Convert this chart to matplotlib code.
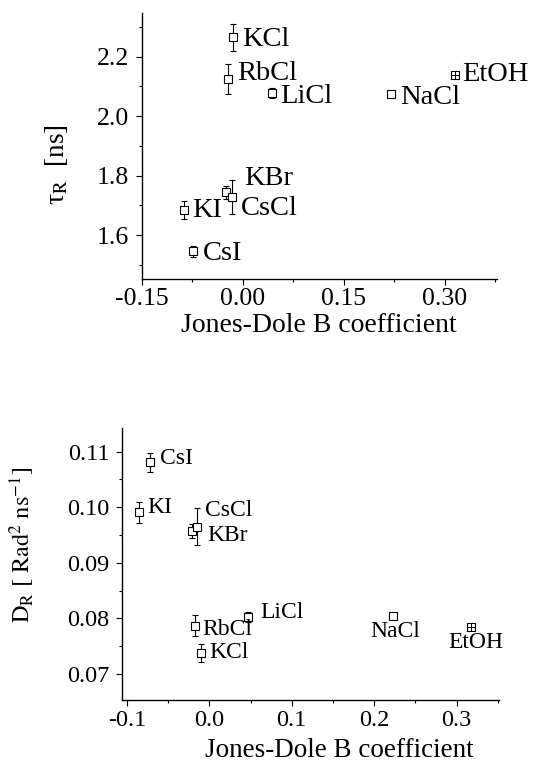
import numpy as np
import matplotlib
matplotlib.use("Agg")
import matplotlib.pyplot as plt
from matplotlib.ticker import MultipleLocator, FormatStrFormatter

plt.rcParams['font.family'] = ['Liberation Serif', 'DejaVu Serif']
plt.rcParams['mathtext.fontset'] = 'stix'
plt.rcParams['axes.unicode_minus'] = False

# ---- data -------------------------------------------------------------
salts = ['KCl', 'RbCl', 'LiCl', 'NaCl', 'EtOH', 'KBr', 'CsCl', 'KI', 'CsI']

# rotational correlation time vs Jones-Dole B
b_tau = [-0.0137, -0.0216, 0.0443, 0.2204, 0.315, -0.024, -0.0162, -0.0875, -0.0732]
tau_r = [2.265, 2.124, 2.077, 2.074, 2.137, 1.744, 1.729, 1.684, 1.546]
tau_err = [0.046, 0.051, 0.017, 0.008, 0.005, 0.022, 0.056, 0.030, 0.018]

# rotational diffusion coefficient vs Jones-Dole B
b_dr = [-0.0099, -0.0173, 0.0472, 0.2226, 0.318, -0.0209, -0.0153, -0.0858, -0.0725]
d_r = [0.0737, 0.0787, 0.0803, 0.0805, 0.0784, 0.0957, 0.0965, 0.0991, 0.1081]
d_err = [0.0016, 0.0019, 0.0009, 0.0, 0.0002, 0.0012, 0.0033, 0.0019, 0.0017]

top_xticks = [-0.15, 0.00, 0.15, 0.30]
top_yticks = [1.6, 1.8, 2.0, 2.2]
bot_xticks = [-0.1, 0.0, 0.1, 0.2, 0.3]
bot_yticks = [0.07, 0.08, 0.09, 0.10, 0.11]

# label placement: (dx, dy) in pixels from the marker to the text's left edge / cap centre
top_offsets = {
    'KCl': (9, 1), 'RbCl': (9, 9), 'LiCl': (8, 0), 'NaCl': (9, 0), 'EtOH': (8, 4),
    'KBr': (18, 17), 'CsCl': (9, -9), 'KI': (9, 3), 'CsI': (10, 1),
}
bot_offsets = {
    'CsI': (10, 6), 'KI': (9, 7), 'CsCl': (8, 18), 'KBr': (15, -2), 'LiCl': (12, 6),
    'RbCl': (7, -2), 'KCl': (8, 3), 'NaCl': (-22, -14), 'EtOH': (-23, -13),
}

fig = plt.figure(figsize=(5.35, 7.62), dpi=100)
fig.patch.set_facecolor('white')


def style_axes(ax, tick_size):
    for s in ('top', 'right'):
        ax.spines[s].set_visible(False)
    for s in ('left', 'bottom'):
        ax.spines[s].set_linewidth(1.0)
    ax.tick_params(which='major', direction='out', length=4, width=0.8,
                   labelsize=tick_size)
    ax.tick_params(which='minor', direction='out', length=2.5, width=0.8)
    ax.tick_params(axis='x', pad=2)
    ax.tick_params(axis='y', pad=5)


def draw_panel(ax, x, y, yerr, offsets, fsize):
    ax.errorbar(x, y, yerr=yerr, fmt='s', ms=5.4, mfc='white', mec='black',
                mew=0.8, ecolor='black', elinewidth=0.8, capsize=2.2,
                capthick=0.8, zorder=3)
    i = salts.index('EtOH')
    ax.plot([x[i]], [y[i]], marker='+', ms=5.2, mew=0.7, color='black',
            linestyle='none', zorder=4)
    cap_half = 0.33 * fsize * 100 / 72
    for name, xv, yv in zip(salts, x, y):
        dx, dy = offsets[name]
        ax.annotate(name, (xv, yv), xytext=(dx, dy - cap_half),
                    textcoords='offset pixels', ha='left', va='baseline',
                    fontsize=fsize, zorder=5)


# ---- upper panel -------------------------------------------------------
ax1 = fig.add_axes([0.2645, 0.6335, 0.6639, 0.3491])
draw_panel(ax1, b_tau, tau_r, tau_err, top_offsets, 20.5)
ax1.set_xlim(-0.15, 0.3775)
ax1.set_ylim(1.452, 2.346)
ax1.set_xticks(top_xticks)
ax1.set_yticks(top_yticks)
ax1.xaxis.set_minor_locator(MultipleLocator(0.075))
ax1.yaxis.set_minor_locator(MultipleLocator(0.1))
ax1.xaxis.set_major_formatter(FormatStrFormatter('%.2f'))
ax1.yaxis.set_major_formatter(FormatStrFormatter('%.1f'))
style_axes(ax1, 18.5)
ax1.set_xlabel('Jones-Dole B coefficient', fontsize=20, va='baseline')
ax1.xaxis.set_label_coords(0.5, -0.197)
ax1.set_ylabel(r'τ$_{\mathrm{R}}$  [ns]', fontsize=19.5,
               va='center', ha='center')
ax1.yaxis.set_label_coords(-0.238, 0.43)

# ---- lower panel -------------------------------------------------------
ax2 = fig.add_axes([0.228, 0.0814, 0.7047, 0.3566])
draw_panel(ax2, b_dr, d_r, d_err, bot_offsets, 17)
ax2.set_xlim(-0.106, 0.3515)
ax2.set_ylim(0.0653, 0.1142)
ax2.set_xticks(bot_xticks)
ax2.set_yticks(bot_yticks)
ax2.xaxis.set_minor_locator(MultipleLocator(0.05))
ax2.yaxis.set_minor_locator(MultipleLocator(0.005))
ax2.xaxis.set_major_formatter(FormatStrFormatter('%.1f'))
ax2.yaxis.set_major_formatter(FormatStrFormatter('%.2f'))
style_axes(ax2, 17.5)
ax2.tick_params(axis='x', pad=3)
ax2.set_xlabel('Jones-Dole B coefficient', fontsize=19.5, va='baseline')
ax2.xaxis.set_label_coords(0.576, -0.21)
ax2.set_ylabel(r'$\mathrm{D_R\ [\ Rad^2\ ns^{-1}]}$', fontsize=17.5,
               va='center', ha='center')
ax2.yaxis.set_label_coords(-0.264, 0.569)

fig.savefig('out.png', dpi=100, facecolor='white')
